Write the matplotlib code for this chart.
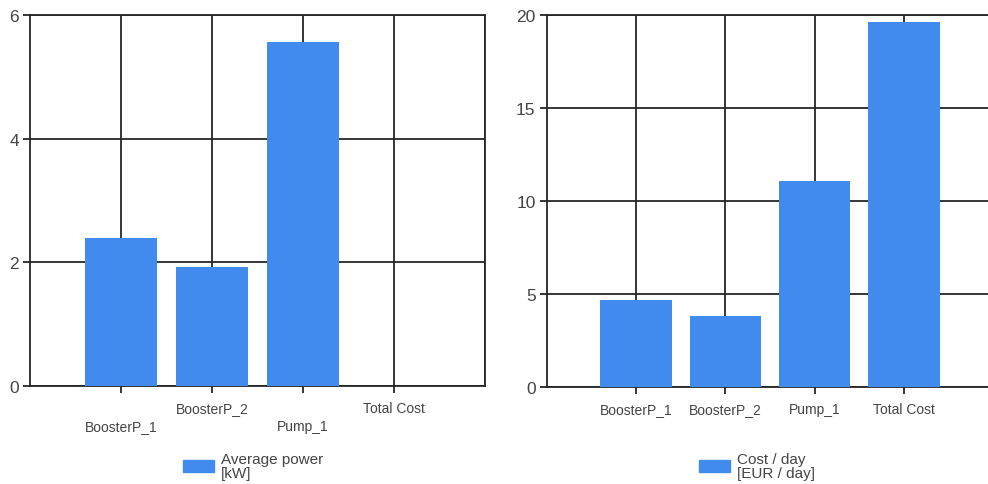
import matplotlib
matplotlib.use("Agg")
import matplotlib.pyplot as plt
from matplotlib.patches import Patch

plt.rcParams['font.family'] = ['Liberation Sans', 'DejaVu Sans']

categories = ["BoosterP_1", "BoosterP_2", "Pump_1", "Total Cost"]
avg_power_kw = [2.39, 1.93, 5.57, 0.0]
cost_per_day_eur = [4.69, 3.83, 11.07, 19.64]

power_legend = "Average power\n[kW]"
cost_legend = "Cost / day\n[EUR / day]"
power_yticks = [0, 2, 4, 6]
cost_yticks = [0, 5, 10, 15, 20]

BAR = "#418BEE"
GRID = "#262626"
TXT = "#444444"

W, H = 988, 485
fig = plt.figure(figsize=(W / 100, H / 100), dpi=100)


def px_axes(x0, y0, x1, y1):
    return fig.add_axes([x0 / W, 1 - y1 / H, (x1 - x0) / W, (y1 - y0) / H])


def style(ax, yticks, ylim, xlim_right, ysize):
    pos = list(range(1, len(categories) + 1))
    ax.set_xlim(0, xlim_right)
    ax.set_ylim(*ylim)
    ax.set_xticks(pos)
    ax.set_xticklabels(categories, fontsize=10, color=TXT)
    ax.set_yticks(yticks)
    ax.set_yticklabels([str(v) for v in yticks], fontsize=ysize, color=TXT)
    ax.grid(True, color=GRID, linewidth=1.3)
    ax.set_axisbelow(True)
    for s in ax.spines.values():
        s.set_color(GRID)
        s.set_linewidth(1.3)
    ax.tick_params(axis='both', length=5, width=1.3, color=GRID)
    ax.tick_params(axis='x', pad=6)
    ax.tick_params(axis='y', pad=3)
    ax.axvline(5, color=GRID, linewidth=1.3)


# Left panel: average power
ax1 = px_axes(30, 16, 485, 387)
pos = list(range(1, len(categories) + 1))
ax1.bar(pos, avg_power_kw, width=0.8, color=BAR, zorder=3)
style(ax1, power_yticks, (0, 6), 5, 12.5)
# staggered tick labels
for i, t in enumerate(ax1.xaxis.get_major_ticks()):
    if i % 2 == 0:
        t.set_pad(6 + 13)

# Right panel: cost per day
ax2 = px_axes(546.7, 16, 546.7 + 89.3 * 5, 388)
ax2.bar(pos, cost_per_day_eur, width=0.8, color=BAR, zorder=3)
style(ax2, cost_yticks, (0, 20), 5, 12.5)

leg_kw = dict(frameon=False, fontsize=11, handlelength=2.0, handleheight=0.8,
              handletextpad=0.5, borderpad=0, borderaxespad=0, labelspacing=0,
              loc='center left')
l1 = fig.legend(handles=[Patch(color=BAR, label=power_legend)],
                bbox_to_anchor=(183 / W, 1 - 467 / H), **leg_kw)
l2 = fig.legend(handles=[Patch(color=BAR, label=cost_legend)],
                bbox_to_anchor=(699 / W, 1 - 467 / H), **leg_kw)
for lg in (l1, l2):
    for t in lg.get_texts():
        t.set_color(TXT)
        t.set_linespacing(0.95)

fig.savefig("out.png", dpi=100)
